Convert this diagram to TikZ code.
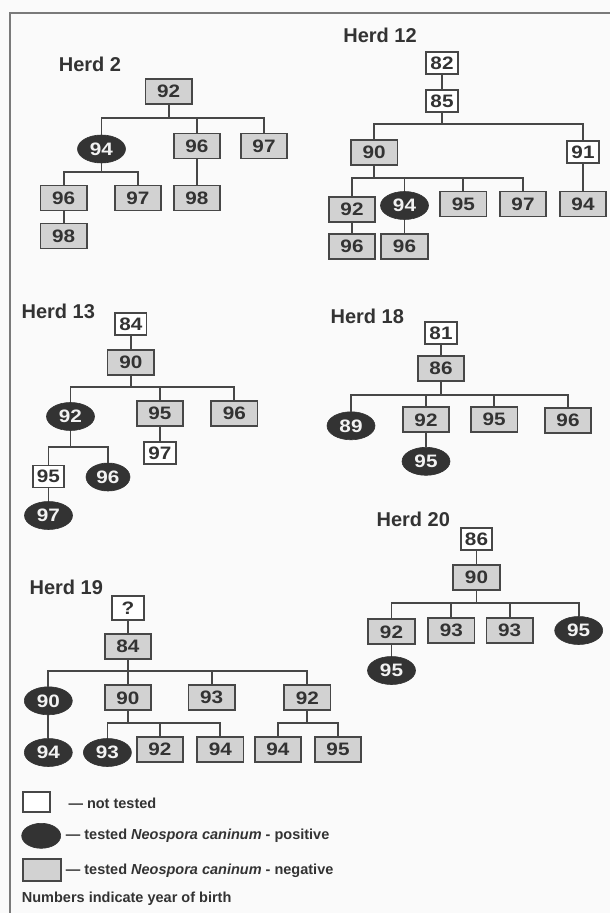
\documentclass[tikz,border=0pt]{standalone}
\usepackage{fontspec}
\setmainfont{Liberation Sans}
\newfontfamily\numf{Liberation Sans}[FakeStretch=1.15]
\usetikzlibrary{shapes.geometric}
\definecolor{ln}{HTML}{474747}
\definecolor{gf}{HTML}{D2D2D2}
\definecolor{ef}{HTML}{333333}
\definecolor{tx}{HTML}{333333}
\definecolor{bg}{HTML}{FAFAFA}
\definecolor{fr}{HTML}{7A7A7A}
\begin{document}
\begin{tikzpicture}[x=1pt,y=-1pt,
  numfont/.style={font=\numf\fontsize{18}{18}\selectfont\bfseries},
  gbox/.style={numfont,draw=ln,line width=1.8pt,fill=gf,minimum width=46.5pt,minimum height=25pt,inner sep=0pt,text=tx},
  wbox/.style={numfont,draw=ln,line width=1.8pt,fill=white,minimum width=31.5pt,minimum height=22pt,inner sep=0pt,text=tx},
  posell/.style={numfont,ellipse,draw=ef,line width=0.6pt,fill=ef,minimum width=48pt,minimum height=28pt,inner sep=0pt,text=white!95!black},
  conn/.style={draw=ln,line width=1.8pt},
  herd/.style={font=\fontsize{20}{20}\selectfont\bfseries,text=tx,inner sep=0pt},
  leg/.style={font=\fontsize{14.5}{14.5}\selectfont\bfseries,text=tx,inner sep=0pt,anchor=west}]
\fill[bg] (0,0) rectangle (610,913);
\useasboundingbox (0,0) rectangle (610,913);
\draw[fr,line width=1.5pt] (10,913) -- (10,13) -- (610,13);

% ---------- Herd 2
\node[herd] (h2l) at (90,64) {Herd 2};
\node[gbox] (h2a) at (168.7,91.5) {92};
\node[posell]  (h2b) at (101.5,149) {94};
\node[gbox] (h2c) at (197,146) {96};
\node[gbox] (h2d) at (264,146) {97};
\node[gbox] (h2e) at (63.7,198) {96};
\node[gbox] (h2f) at (138,198) {97};
\node[gbox] (h2g) at (197,198) {98};
\node[gbox] (h2h) at (63.7,236) {98};
\coordinate (h2y1) at (0,118.3);
\coordinate (h2y2) at (0,171.7);
\foreach \c in {h2b,h2c,h2d} \draw[conn] (h2a.south) -- (h2a.south |- h2y1) -| (\c.north);
\foreach \c in {h2e,h2f} \draw[conn] (h2b.south) -- (h2b.south |- h2y2) -| (\c.north);
\draw[conn] (h2c.south) -- (h2g.north);
\draw[conn] (h2e.south) -- (h2h.north);

% ---------- Herd 12
\node[herd] (h12l) at (380,35) {Herd 12};
\node[wbox] (h12a) at (442,63) {82};
\node[wbox] (h12b) at (442,101) {85};
\node[gbox] (h12c) at (374.2,152.5) {90};
\node[wbox] (h12d) at (583,152) {91};
\node[gbox] (h12e) at (352,209.7) {92};
\node[posell]  (h12f) at (404.5,205.5) {94};
\node[gbox] (h12g) at (463.3,204) {95};
\node[gbox] (h12h) at (523,204) {97};
\node[gbox] (h12i) at (583,204) {94};
\node[gbox] (h12j) at (352,246.3) {96};
\node[gbox] (h12k) at (404.5,246.3) {96};
\coordinate (h12y1) at (0,124.3);
\coordinate (h12y2) at (0,178.3);
\draw[conn] (h12a.south) -- (h12b.north);
\foreach \c in {h12c,h12d} \draw[conn] (h12b.south) -- (h12b.south |- h12y1) -| (\c.north);
\foreach \c in {h12e,h12f,h12g,h12h} \draw[conn] (h12c.south) -- (h12c.south |- h12y2) -| (\c.north);
\draw[conn] (h12d.south) -- (h12i.north);
\draw[conn] (h12e.south) -- (h12j.north);
\draw[conn] (h12f.south) -- (h12k.north);

% ---------- Herd 13
\node[herd] (h13l) at (58.3,311) {Herd 13};
\node[wbox] (h13a) at (130.8,324) {84};
\node[gbox] (h13b) at (130.8,362.5) {90};
\node[posell]  (h13c) at (70.5,416.5) {92};
\node[gbox] (h13d) at (160,413.5) {95};
\node[gbox] (h13e) at (234.3,413.5) {96};
\node[wbox] (h13f) at (160,453.3) {97};
\node[wbox] (h13g) at (48.5,476.5) {95};
\node[posell,minimum width=44pt]  (h13h) at (108,477) {96};
\node[posell]  (h13i) at (48.5,515.5) {97};
\coordinate (h13y1) at (0,386.7);
\coordinate (h13y2) at (0,446.7);
\draw[conn] (h13a.south) -- (h13b.north);
\foreach \c in {h13c,h13d,h13e} \draw[conn] (h13b.south) -- (h13b.south |- h13y1) -| (\c.north);
\foreach \c in {h13g,h13h} \draw[conn] (h13c.south) -- (h13c.south |- h13y2) -| (\c.north);
\draw[conn] (h13d.south) -- (h13f.north);
\draw[conn] (h13g.south) -- (h13i.north);

% ---------- Herd 18
\node[herd] (h18l) at (367.3,316.8) {Herd 18};
\node[wbox] (h18a) at (441,333.3) {81};
\node[gbox] (h18b) at (441,368.2) {86};
\node[posell]  (h18c) at (351,425.8) {89};
\node[gbox] (h18d) at (426,419.8) {92};
\node[gbox] (h18e) at (494.2,419.2) {95};
\node[gbox] (h18f) at (568,420.2) {96};
\node[posell]  (h18g) at (426,461.3) {95};
\coordinate (h18y1) at (0,395);
\draw[conn] (h18a.south) -- (h18b.north);
\foreach \c in {h18c,h18d,h18e,h18f} \draw[conn] (h18b.south) -- (h18b.south |- h18y1) -| (\c.north);
\draw[conn] (h18d.south) -- (h18g.north);

% ---------- Herd 20
\node[herd] (h20l) at (413.3,519.2) {Herd 20};
\node[wbox] (h20a) at (476.5,538.8) {86};
\node[gbox] (h20b) at (476.5,577.5) {90};
\node[gbox] (h20c) at (391.5,631.8) {92};
\node[gbox] (h20d) at (451.3,630.3) {93};
\node[gbox] (h20e) at (509.7,630.3) {93};
\node[posell]  (h20f) at (578.7,630.5) {95};
\node[posell]  (h20g) at (391.5,670.5) {95};
\coordinate (h20y1) at (0,603.3);
\draw[conn] (h20a.south) -- (h20b.north);
\foreach \c in {h20c,h20d,h20e,h20f} \draw[conn] (h20b.south) -- (h20b.south |- h20y1) -| (\c.north);
\draw[conn] (h20c.south) -- (h20g.north);

% ---------- Herd 19
\node[herd] (h19l) at (66.3,587.5) {Herd 19};
\node[wbox,minimum height=24pt] (h19a) at (128,608) {?};
\node[gbox] (h19b) at (128,646.5) {84};
\node[posell]  (h19c) at (48.3,700.8) {90};
\node[gbox] (h19d) at (128,697.8) {90};
\node[gbox] (h19e) at (211.7,697.8) {93};
\node[gbox] (h19f) at (307.3,697.8) {92};
\node[posell]  (h19g) at (48.3,752.5) {94};
\node[posell]  (h19h) at (107.4,752.5) {93};
\node[gbox] (h19i) at (160,749.2) {92};
\node[gbox] (h19j) at (220.3,749.2) {94};
\node[gbox] (h19k) at (278,749.2) {94};
\node[gbox] (h19m) at (338,749.2) {95};
\coordinate (h19y1) at (0,670.7);
\coordinate (h19y2) at (0,722.7);
\draw[conn] (h19a.south) -- (h19b.north);
\foreach \c in {h19c,h19d,h19e,h19f} \draw[conn] (h19b.south) -- (h19b.south |- h19y1) -| (\c.north);
\draw[conn] (h19c.south) -- (h19g.north);
\foreach \c in {h19h,h19i,h19j} \draw[conn] (h19d.south) -- (h19d.south |- h19y2) -| (\c.north);
\foreach \c in {h19k,h19m} \draw[conn] (h19f.south) -- (h19f.south |- h19y2) -| (\c.north);

% ---------- Legend
\node[wbox,minimum width=26.7pt,minimum height=20pt] (lg1) at (36.7,801.7) {};
\node[posell,minimum width=39pt,minimum height=25pt] (lg2) at (41.2,835.8) {};
\node[gbox,minimum width=38.3pt,minimum height=21.3pt] (lg3) at (41.8,870) {};
\node[leg] (lt1) at (68.3,803) {— not tested};
\node[leg] (lt2) at (65.7,836) {— tested \textit{Neospora caninum} - positive};
\node[leg] (lt3) at (65.7,871) {— tested \textit{Neospora caninum} - negative};
\node[leg] (lt4) at (21.7,899) {Numbers indicate year of birth};
\end{tikzpicture}
\end{document}
